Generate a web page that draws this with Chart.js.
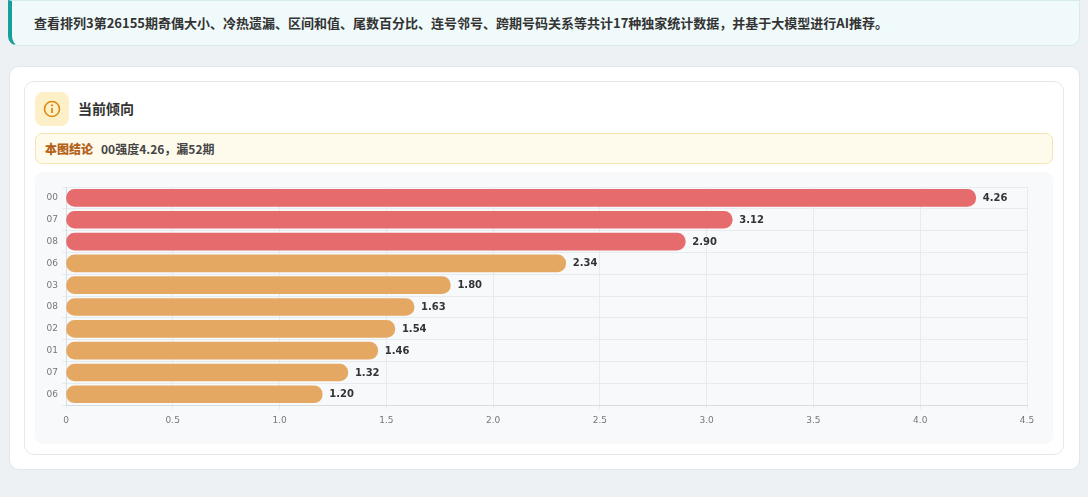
<!DOCTYPE html>
<html><head><meta charset="utf-8">
<script src="https://cdn.jsdelivr.net/npm/chart.js@4"></script>
<style>
body{margin:0;background:#eef1f4;font-family:"Noto Sans CJK SC","Noto Sans",sans-serif;width:1088px;height:497px;position:relative;overflow:hidden}
.banner{position:absolute;left:8px;top:0;width:1072px;height:46px;background:#f0fafa;border:1px solid #d6ecec;border-left:4px solid #17a09a;border-radius:0 0 10px 10px;box-sizing:border-box;font-size:13px;font-weight:bold;color:#333;line-height:44px;padding-left:22px}
.outer{position:absolute;left:9px;top:66px;width:1071px;height:404px;background:#fff;border:1px solid #e3e6ea;border-radius:10px;box-sizing:border-box}
.inner{position:absolute;left:24px;top:81px;width:1040px;height:374px;background:#fff;border:1px solid #e5e8ec;border-radius:10px;box-sizing:border-box}
.icon{position:absolute;left:35px;top:92px;width:34px;height:34px;background:#fdf0c8;border-radius:8px;display:flex;align-items:center;justify-content:center}
.title{position:absolute;left:78px;top:98px;font-size:14px;font-weight:bold;color:#333}
.concl{position:absolute;left:35px;top:133px;width:1018px;height:31px;background:#fefbed;border:1px solid #f6e4b4;border-radius:7px;box-sizing:border-box;font-size:12px;line-height:29px;padding-left:9px;font-weight:bold}
.concl b{color:#b5621a;margin-right:8px}.concl span{color:#444}
.chartbox{position:absolute;left:35px;top:172px;width:1018px;height:272px;background:#f7f9fb;border-radius:8px}
</style></head><body>
<div class="banner">查看排列3第26155期奇偶大小、冷热遗漏、区间和值、尾数百分比、连号邻号、跨期号码关系等共计17种独家统计数据，并基于大模型进行AI推荐。</div>
<div class="outer"></div>
<div class="inner"></div>
<div class="icon"><svg width="18" height="18" viewBox="0 0 18 18"><circle cx="9" cy="9" r="7.5" fill="none" stroke="#d98a10" stroke-width="1.6"/><line x1="9" y1="8" x2="9" y2="13" stroke="#d98a10" stroke-width="1.8"/><circle cx="9" cy="5.3" r="1.1" fill="#d98a10"/></svg></div>
<div class="title">当前倾向</div>
<div class="concl"><b>本图结论</b><span>00强度4.26，漏52期</span></div>
<div class="chartbox"><canvas id="c" width="1018" height="272"></canvas></div>
<script>
const categories=["00","07","08","06","03","08","02","01","07","06"];
const values=[4.26,3.12,2.90,2.34,1.80,1.63,1.54,1.46,1.32,1.20];
const hot=[true,true,true,false,false,false,false,false,false,false];
const xTicks=[0,0.5,1.0,1.5,2.0,2.5,3.0,3.5,4.0,4.5];
const labelPlugin={id:'lbl',afterDatasetsDraw(ch){const ctx=ch.ctx;const m=ch.getDatasetMeta(0);ctx.save();ctx.font='bold 10px "DejaVu Sans",sans-serif';ctx.fillStyle='#333';ctx.textBaseline='middle';m.data.forEach((b,i)=>{ctx.fillText(values[i].toFixed(2),b.x+7,b.y+0.5)});ctx.restore();}};
new Chart(document.getElementById('c'),{type:'bar',
data:{labels:categories,datasets:[{data:values,backgroundColor:hot.map(h=>h?'#e66b6c':'#e5a863'),borderRadius:9,borderSkipped:false,barThickness:17}]},
options:{indexAxis:'y',responsive:false,animation:false,
layout:{padding:{left:0,right:26,top:15,bottom:12}},
plugins:{legend:{display:false},tooltip:{enabled:false}},
scales:{
x:{min:0,max:4.5,afterBuildTicks:s=>{s.ticks=xTicks.map(v=>({value:v}))},ticks:{color:'#777',font:{size:9,family:'DejaVu Sans'},padding:6,callback:v=>v===0?'0':v.toFixed(1)},grid:{color:'#e6ebef',drawTicks:true,tickLength:4},border:{color:'#d8dde2'}},
y:{afterFit:s=>{s.width=31},ticks:{color:'#777',font:{size:9,family:'DejaVu Sans'},padding:4},grid:{color:'#e6ebef',tickLength:4},border:{color:'#d8dde2'}}
}},plugins:[labelPlugin]});
</script>
</body></html>
